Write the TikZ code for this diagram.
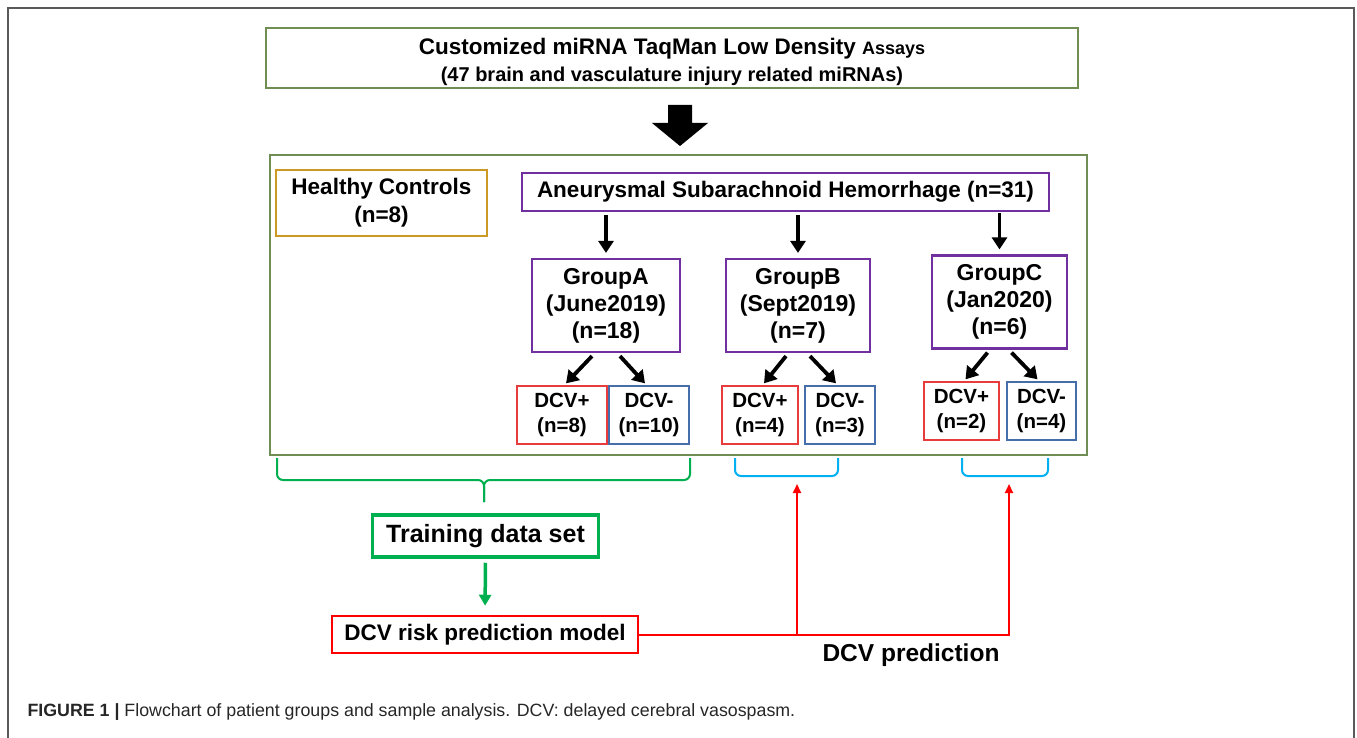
\documentclass[tikz,border=0pt]{standalone}
\usepackage{fontspec}
\setmainfont{Liberation Sans}
\usepackage{tikz}
\usetikzlibrary{positioning,arrows.meta,calc}

\definecolor{panelolive}{RGB}{112,142,84}
\definecolor{hcgold}{RGB}{204,153,36}
\definecolor{sahpurple}{RGB}{112,48,160}
\definecolor{dcvred}{RGB}{232,60,60}
\definecolor{dcvblue}{RGB}{70,110,170}
\definecolor{traingreen}{RGB}{0,176,80}
\definecolor{bracecyan}{RGB}{0,176,240}
\definecolor{framegray}{RGB}{90,90,90}

\begin{document}
\begin{tikzpicture}[x=1pt,y=1pt,
    box/.style={draw, line width=2.2pt, align=center, inner sep=0pt, font=\fontsize{22.5}{28}\selectfont\bfseries},
    grp/.style={box, draw=sahpurple, minimum height=93pt, font=\fontsize{23}{27}\selectfont\bfseries},
    dcv/.style={draw, line width=1.3pt, align=center, inner sep=0pt, minimum height=58pt, font=\fontsize{20.5}{25}\selectfont\bfseries},
    arr/.style={line width=3.8pt, -{Triangle[width=15pt,length=12pt]}},
    brace/.style={line width=2pt, rounded corners=6pt},
    redline/.style={red, line width=2pt, -{Triangle[width=8pt,length=9pt]}}]
      \useasboundingbox (0,0) rectangle (1357,-738);
      \draw[framegray, line width=1.8pt] (8,-738) -- (8,-8) -- (1354,-8) -- (1354,-738);

      % top box and big arrow
      \node[box, draw=panelolive, minimum width=812pt, minimum height=60pt](taqman) at (672,-58)
        {\rule{0pt}{25pt}Customized miRNA TaqMan Low Density {\fontsize{18}{26}\selectfont Assays}\\[-1pt]
         {\fontsize{20}{26}\selectfont (47 brain and vasculature injury related miRNAs)}};
      \fill (668,-105) -- (692,-105) -- (692,-123) -- (708,-123) -- (680,-146) -- (652,-123) -- (668,-123) -- cycle;

      % panel with groups
      \node[draw=panelolive, line width=2pt, minimum width=817pt, minimum height=300pt, inner sep=0pt](panel) at (678.5,-305){};
      \node[box, draw=hcgold, minimum width=211pt, minimum height=66pt](hc) at (381.5,-203){Healthy Controls\\(n=8)};
      \node[box, draw=sahpurple, minimum width=527pt, minimum height=38pt](sah) at (785.5,-192){Aneurysmal Subarachnoid Hemorrhage (n=31)};

      \node[grp, minimum width=148pt](ga) at (606,-305.5){GroupA\\(June2019)\\(n=18)};
      \node[grp, minimum width=144pt](gb) at (798,-305.5){GroupB\\(Sept2019)\\(n=7)};
      \node[grp, minimum width=135pt](gc) at (999.5,-302){GroupC\\(Jan2020)\\(n=6)};

      \node[dcv, draw=dcvred, minimum width=90pt](ap) at (562,-415){DCV+\\(n=8)};
      \node[dcv, draw=dcvblue, minimum width=80pt](am) at (649,-415){DCV-\\(n=10)};
      \node[dcv, draw=dcvred, minimum width=76pt](bp) at (760,-415){DCV+\\(n=4)};
      \node[dcv, draw=dcvblue, minimum width=70pt](bm) at (840,-415){DCV-\\(n=3)};
      \node[dcv, draw=dcvred, minimum width=75pt](cp) at (961.5,-411){DCV+\\(n=2)};
      \node[dcv, draw=dcvblue, minimum width=69pt](cm) at (1041.5,-411){DCV-\\(n=4)};

      \draw[arr, shorten <=3pt, shorten >=5pt] (sah.south -| ga.north) -- (ga.north);
      \draw[arr, shorten <=3pt, shorten >=5pt] (sah.south -| gb.north) -- (gb.north);
      \draw[arr, shorten <=1pt, shorten >=5pt] (sah.south -| gc.north) -- (gc.north);

      \draw[arr] ($(ga.south)+(-14,-3)$) -- ($(ap.north)+(4,2)$);
      \draw[arr] ($(ga.south)+(14,-3)$) -- ($(am.north)+(-4,2)$);
      \draw[arr] ($(gb.south)+(-12,-3)$) -- ($(bp.north)+(4,2)$);
      \draw[arr] ($(gb.south)+(12,-3)$) -- ($(bm.north)+(-4,2)$);
      \draw[arr] ($(gc.south)+(-12,-3)$) -- ($(cp.north)+(4,2)$);
      \draw[arr] ($(gc.south)+(12,-3)$) -- ($(cm.north)+(-4,2)$);

      % braces under the panel
      \draw[brace, traingreen] (277,-458) -- (277,-480) -- (484,-480) -- (484,-502);
      \draw[brace, traingreen] (690,-458) -- (690,-480) -- (484,-480) -- (484,-502);
      \draw[brace, bracecyan] (735,-458) -- (735,-476) -- (838,-476) -- (838,-458);
      \draw[brace, bracecyan] (962,-458) -- (962,-476) -- (1048,-476) -- (1048,-458);
      \coordinate (tipb) at (797,-484);
      \coordinate (tipc) at (1009,-484);

      % training and prediction
      \node[draw=traingreen, line width=3.5pt, minimum width=226pt, minimum height=42pt, inner sep=0pt,
        font=\fontsize{25}{30}\selectfont\bfseries](train) at (485.5,-536){Training data set};
      \node[draw=red, line width=2.5pt, minimum width=306pt, minimum height=37pt, inner sep=0pt,
        font=\fontsize{22.5}{27}\selectfont\bfseries](model) at (485,-634.5){DCV risk prediction model};
      \draw[traingreen, line width=3.5pt, -{Triangle[width=12pt,length=11pt]}, shorten <=4pt, shorten >=9pt] (train.south) -- (model.north);
      \draw[redline] (model.east) -| (tipc);
      \draw[redline] (model.east -| tipb) -- (tipb);
      \node[font=\fontsize{24.5}{29}\selectfont\bfseries](pred) at (911,-655){DCV prediction};

      \node[anchor=base west, font=\fontsize{17.8}{21}\selectfont, text=black!85](caption) at (24,-716)
        {\textbf{FIGURE 1 |} Flowchart of patient groups and sample analysis. DCV: delayed cerebral vasospasm.};
\end{tikzpicture}
\end{document}
